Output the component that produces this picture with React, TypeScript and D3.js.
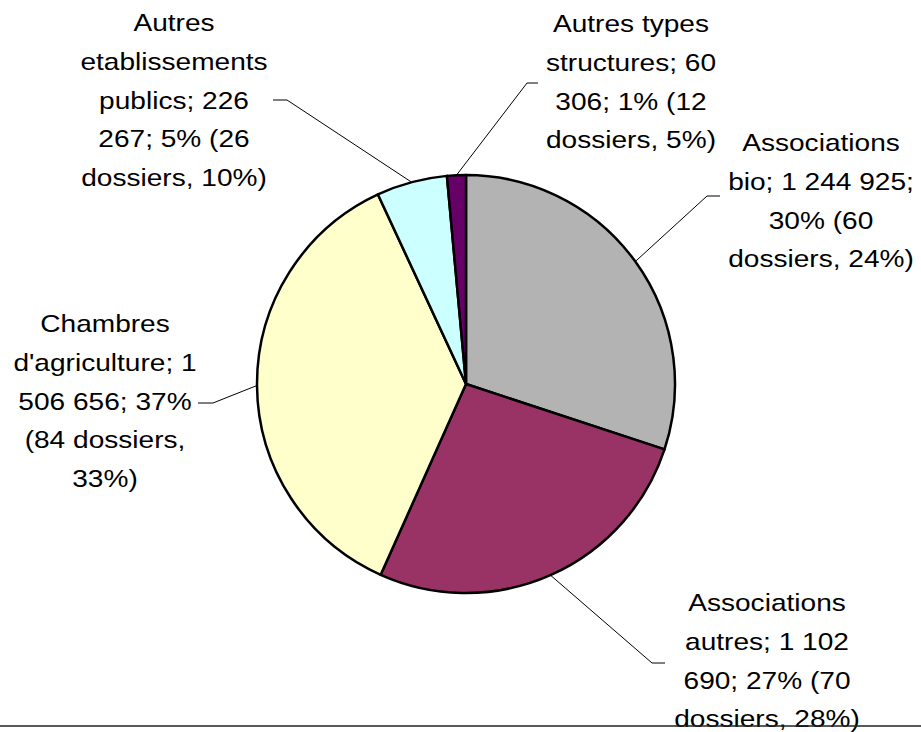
import React from "react";
import * as d3 from "d3";

// montants par type de structure, dans l'ordre horaire depuis midi
const categories = [
  "Associations bio",
  "Associations autres",
  "Chambres d'agriculture",
  "Autres etablissements publics",
  "Autres types structures",
];
const amounts = [1244925, 1102690, 1506656, 226267, 60306];
const colors = ["#b3b3b3", "#993366", "#ffffcc", "#ccffff", "#660066"];

// texte des étiquettes, coupé comme dans l'original
const labelLines = [
  ["Associations", "bio; 1 244 925;", "30% (60", "dossiers, 24%)"],
  ["Associations", "autres; 1 102", "690; 27% (70", "dossiers, 28%)"],
  ["Chambres", "d'agriculture; 1", "506 656; 37%", "(84 dossiers,", "33%)"],
  ["Autres", "etablissements", "publics; 226", "267; 5% (26", "dossiers, 10%)"],
  ["Autres types", "structures; 60", "306; 1% (12", "dossiers, 5%)"],
];

// placement des étiquettes: centre x, première ligne de base, coude du trait
const labelPos = [
  { x: 821, y: 151, elbow: [707, 196], end: [720, 196] },
  { x: 767, y: 611, elbow: [652, 663], end: [665, 663] },
  { x: 105, y: 332, elbow: [213, 403], end: [198, 403] },
  { x: 174, y: 31, elbow: [287, 100], end: [273, 100] },
  { x: 631, y: 32, elbow: [527, 83], end: [538, 83] },
];

const W = 921;
const H = 732;
const CX = 466;
const CY = 384;
const R = 209;
const LINE_H = 38.8;

export default function App() {
  const pie = d3
    .pie<number>()
    .sort(null)
    .value((d) => d)
    .startAngle(0)
    .endAngle(2 * Math.PI);
  const arcs = pie(amounts);
  const arc = d3.arc<d3.PieArcDatum<number>>().innerRadius(0).outerRadius(R);

  return (
    <svg
      width={W}
      height={H}
      style={{ position: "absolute", left: 0, top: 0, background: "#fff" }}
      fontFamily="'Liberation Sans', Arial, sans-serif"
    >
      <g transform={`translate(${CX},${CY})`}>
        {arcs.map((a, i) => (
          <path
            key={categories[i]}
            d={arc(a) || ""}
            fill={colors[i]}
            stroke="#000"
            strokeWidth={2.5}
            strokeLinejoin="round"
          />
        ))}
      </g>
      {arcs.map((a, i) => {
        const mid = (a.startAngle + a.endAngle) / 2;
        const sx = CX + R * Math.sin(mid);
        const sy = CY - R * Math.cos(mid);
        const p = labelPos[i];
        return (
          <polyline
            key={"l" + i}
            points={`${sx},${sy} ${p.elbow[0]},${p.elbow[1]} ${p.end[0]},${p.end[1]}`}
            fill="none"
            stroke="#000"
            strokeWidth={1}
          />
        );
      })}
      {labelLines.map((lines, i) => (
        <text
          key={"t" + i}
          transform={`translate(${labelPos[i].x},0) scale(1.17,1)`}
          textAnchor="middle"
          fontSize={24}
          fill="#000"
        >
          {lines.map((s, j) => (
            <tspan key={j} x={0} y={labelPos[i].y + j * LINE_H}>
              {s}
            </tspan>
          ))}
        </text>
      ))}
      <line x1={0} x2={W} y1={726} y2={726} stroke="#222" strokeWidth={1.5} />
    </svg>
  );
}
